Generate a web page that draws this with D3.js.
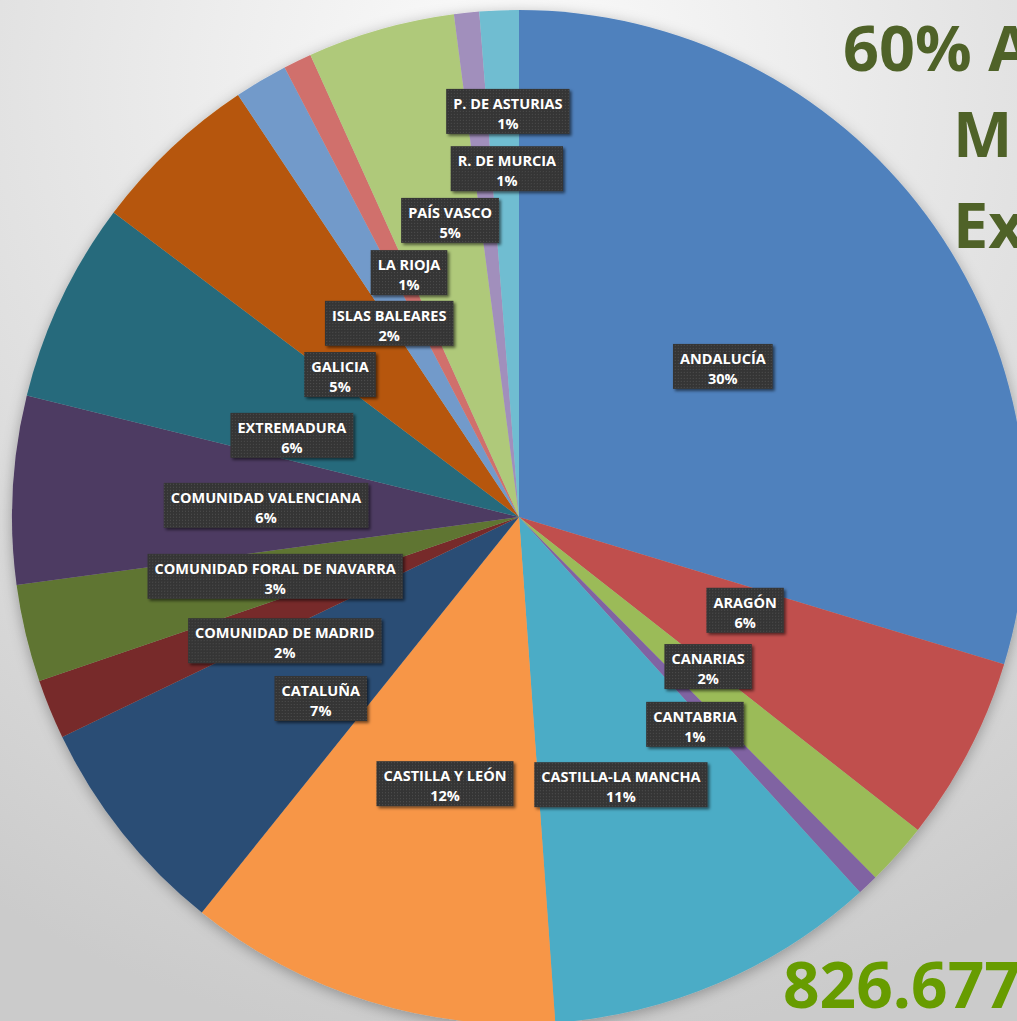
<!DOCTYPE html>
<html>
<head>
<meta charset="utf-8">
<script src="https://cdn.jsdelivr.net/npm/d3@7"></script>
<style>
  html, body { margin: 0; padding: 0; overflow: hidden; }
  body { width: 1017px; height: 1021px; }
  svg { display: block; }
</style>
</head>
<body>
<div id="chart"></div>
<script>
// Regions (clockwise from 12 o'clock) and their share
const regions = ['ANDALUCÍA', 'ARAGÓN', 'CANARIAS', 'CANTABRIA', 'CASTILLA-LA MANCHA',
    'CASTILLA Y LEÓN', 'CATALUÑA', 'COMUNIDAD DE MADRID', 'COMUNIDAD FORAL DE NAVARRA',
    'COMUNIDAD VALENCIANA', 'EXTREMADURA', 'GALICIA', 'ISLAS BALEARES', 'LA RIOJA',
    'PAÍS VASCO', 'R. DE MURCIA', 'P. DE ASTURIAS'];
const shares = [29.7, 5.9, 2.0, 0.67, 10.6, 11.9, 7.1, 1.9, 3.1, 6.0, 6.4, 5.4, 1.7, 0.9, 4.7, 0.8, 1.25];
const colors = ['#4f81bd', '#c0504d', '#9bbb59', '#8064a2', '#4bacc6', '#f79646', '#2c4d75',
    '#772c2a', '#5f7530', '#4d3b62', '#276a7c', '#b65708', '#729aca', '#d0706c',
    '#afc97a', '#a18fbc', '#6fbdd1'];
const titleLines = ['60% A', 'M', 'Ex'];
const totalText = '826.677';

// label placement (fraction of radius from pie centre), as dragged in the original
const labelOffsets = [[0.402, -0.298], [0.446, 0.183], [0.373, 0.294], [0.347, 0.408],
    [0.201, 0.527], [-0.146, 0.525], [-0.391, 0.357], [-0.462, 0.243], [-0.481, 0.116],
    [-0.499, -0.024], [-0.448, -0.162], [-0.353, -0.282], [-0.256, -0.383], [-0.217, -0.483],
    [-0.136, -0.586], [-0.024, -0.688], [-0.022, -0.801]];

const W = 1017, H = 1021;
const cx = 519, cy = 517, radius = 507;

const svg = d3.select('#chart').append('svg')
    .attr('width', W)
    .attr('height', H);

const defs = svg.append('defs');

const bg = defs.append('radialGradient')
    .attr('id', 'bg')
    .attr('cx', '50%').attr('cy', '8%').attr('r', '95%');
bg.append('stop').attr('offset', '0%').attr('stop-color', '#fcfcfc');
bg.append('stop').attr('offset', '45%').attr('stop-color', '#e6e6e6');
bg.append('stop').attr('offset', '100%').attr('stop-color', '#cbcbcb');

const pieShadow = defs.append('filter').attr('id', 'pieShadow')
    .attr('x', '-10%').attr('y', '-10%').attr('width', '120%').attr('height', '120%');
pieShadow.append('feDropShadow')
    .attr('dx', 0).attr('dy', 3).attr('stdDeviation', 7)
    .attr('flood-color', '#000').attr('flood-opacity', 0.3);

const boxShadow = defs.append('filter').attr('id', 'boxShadow')
    .attr('x', '-20%').attr('y', '-30%').attr('width', '140%').attr('height', '160%');
boxShadow.append('feDropShadow')
    .attr('dx', 2).attr('dy', 2).attr('stdDeviation', 1.8)
    .attr('flood-color', '#000').attr('flood-opacity', 0.55);

// dotted dark fill used by the labels
const dots = defs.append('pattern')
    .attr('id', 'dots')
    .attr('width', 3).attr('height', 3)
    .attr('patternUnits', 'userSpaceOnUse');
dots.append('rect').attr('width', 3).attr('height', 3).attr('fill', '#363636');
dots.append('rect').attr('width', 1).attr('height', 1).attr('fill', '#4c4c4c');

svg.append('rect')
    .attr('width', W).attr('height', H)
    .attr('fill', 'url(#bg)');

const pie = d3.pie().sort(null).value(d => d);
const arcs = pie(shares);
const total = d3.sum(shares);

const arc = d3.arc().innerRadius(0).outerRadius(radius);

const g = svg.append('g')
    .attr('transform', `translate(${cx},${cy})`);

g.append('g')
    .attr('filter', 'url(#pieShadow)')
    .selectAll('path')
    .data(arcs)
    .enter()
    .append('path')
    .attr('d', arc)
    .attr('fill', (d, i) => colors[i]);

// Data labels
const x = d3.scaleLinear().domain([-1, 1]).range([-radius, radius]);

const labels = g.selectAll('.label')
    .data(arcs)
    .enter()
    .append('g')
    .attr('class', 'label')
    .attr('transform', (d, i) => `translate(${x(labelOffsets[i][0])},${x(labelOffsets[i][1])})`);

labels.each(function(d, i) {
    const lg = d3.select(this);
    const rect = lg.append('rect');
    const t = lg.append('text')
        .attr('text-anchor', 'middle')
        .style('font-family', '"Open Sans", sans-serif')
        .style('font-weight', 700)
        .style('font-size', '14.5px')
        .attr('fill', '#fff');
    t.append('tspan').attr('x', 0).attr('y', -2).text(regions[i]);
    t.append('tspan').attr('x', 0).attr('y', 18).text(Math.round(d.data / total * 100) + '%');
    const w = t.node().getBBox().width;
    rect.attr('x', -w / 2 - 7)
        .attr('y', -22)
        .attr('width', w + 14)
        .attr('height', 45)
        .attr('fill', 'url(#dots)')
        .attr('filter', 'url(#boxShadow)');
});

// Title at the top right, cut by the page edge
const title = svg.append('text')
    .style('font-family', '"Open Sans", sans-serif')
    .style('font-weight', 700)
    .style('font-size', '63px')
    .attr('fill', '#4f6228');
const titleX = [843, 953, 953];
const titleY = [71, 157, 248];
titleLines.forEach((s, i) => {
    title.append('tspan').attr('x', titleX[i]).attr('y', titleY[i]).text(s);
});

svg.append('text')
    .attr('x', 783)
    .attr('y', 1008)
    .style('font-family', '"Open Sans", sans-serif')
    .style('font-weight', 700)
    .style('font-size', '64px')
    .attr('fill', '#679c00')
    .text(totalText);
</script>
</body>
</html>
